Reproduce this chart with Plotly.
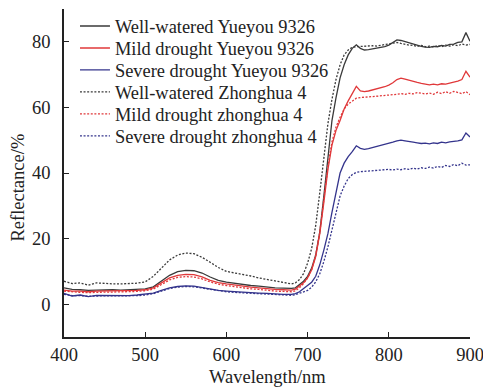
import plotly.graph_objects as go

# Wavelength grid (nm)
wavelength = list(range(400, 690, 10)) + list(range(685, 905, 5))

# Reflectance (%) series
ww_yueyou = [5.0, 4.5, 4.4, 4.2, 4.3, 4.4, 4.4, 4.3, 4.4, 4.5, 4.7, 5.3, 7.0, 8.8, 9.9, 10.3, 10.2, 9.5, 8.3, 7.3,
             6.7, 6.3, 6.0, 5.7, 5.5, 5.2, 5.0, 4.9, 4.8,
             5.0, 6.0, 7.0, 8.5, 11, 15, 22, 33, 45, 56, 63, 69, 73, 76, 78, 79.1, 78, 77.5,
             77.6, 77.8, 77.9, 78.2, 78.5, 79.0, 79.8, 80.6, 80.4, 80.0, 79.6, 79.2, 79.0, 78.6, 78.4, 78.3,
             78.6, 78.5, 78.9, 78.7, 79.2, 79.3, 79.8, 80.0, 82.8, 80.2]
md_yueyou = [4.3, 4.0, 4.0, 3.8, 4.0, 4.0, 4.0, 4.0, 4.1, 4.2, 4.4, 5.0, 6.5, 8.0, 8.8, 9.1, 9.0, 8.3, 7.3, 6.6,
             6.2, 5.8, 5.5, 5.2, 5.0, 4.7, 4.5, 4.4, 4.3,
             4.6, 5.5, 6.5, 8, 10.5, 14.5, 21.5, 31, 41, 48.5, 53, 56, 59.5, 62, 64, 66.4, 65, 64.8,
             65.0, 65.3, 65.6, 66.0, 66.3, 66.8, 67.5, 68.5, 68.9, 68.6, 68.2, 67.9, 67.6, 67.3, 67.0, 66.9,
             67.1, 66.9, 67.2, 67.1, 67.4, 67.6, 68.0, 68.5, 71.0, 69.2]
sd_yueyou = [3.3, 2.5, 2.8, 2.3, 2.7, 2.7, 2.6, 2.5, 2.6, 2.8, 3.0, 3.4, 4.2, 5.0, 5.4, 5.6, 5.5, 5.0, 4.5, 4.2,
             4.0, 3.8, 3.6, 3.5, 3.4, 3.3, 3.1, 3.0, 3.0,
             3.2, 3.8, 4.8, 5.8, 6.7, 8.5, 12, 16.5, 21.5, 28, 34, 40, 43, 45, 46.5, 48.3, 47.5, 47.2,
             47.4, 47.7, 48.1, 48.4, 48.7, 49.0, 49.4, 49.8, 50.0, 49.8, 49.5, 49.4, 49.2, 49.0, 49.1, 48.9,
             49.2, 49.0, 49.4, 49.2, 49.5, 49.6, 49.8, 50.1, 52.2, 51.0]
ww_zhonghua = [7.0, 6.3, 6.5, 5.8, 6.5, 6.3, 6.2, 6.2, 6.2, 6.4, 6.8, 8.5, 11.0, 13.5, 15.0, 15.6, 15.4, 14.3, 12.8, 11.2,
               10.0, 9.6, 9.2, 8.6, 8.0, 7.5, 7.0, 6.5, 6.2,
               6.5, 7.5, 9.3, 12.5, 17, 24, 34, 45, 55, 62.5, 68.5, 73, 76, 77.5, 78.3, 78.5, 78.6, 78.5,
               78.6, 78.8, 78.7, 78.9, 79.0, 79.2, 79.6, 79.8, 79.5, 79.2, 79.0, 78.9, 78.6, 78.9, 78.5, 78.7,
               78.4, 78.8, 78.5, 79.0, 78.7, 79.1, 78.8, 79.3, 79.0, 79.2]
md_zhonghua = [4.0, 3.7, 3.6, 3.5, 3.7, 3.7, 3.7, 3.7, 3.8, 3.9, 4.1, 4.6, 6.0, 7.4, 8.2, 8.4, 8.3, 7.7, 6.8, 6.1,
               5.7, 5.3, 5.0, 4.7, 4.5, 4.2, 4.0, 3.9, 3.8,
               4.1, 5.0, 6.3, 8, 10.5, 15, 22, 32, 42, 49.5, 54, 57, 59.5, 61, 62, 62.8, 63.0, 63.2,
               63.2, 63.3, 63.4, 63.5, 63.6, 63.8, 63.7, 64.0, 64.2, 64.0, 64.3, 64.1, 64.5, 64.3, 64.1, 64.4,
               64.0, 64.6, 64.2, 64.8, 64.3, 64.9, 64.5, 64.2, 64.8, 63.9]
sd_zhonghua = [3.0, 2.6, 2.6, 2.4, 2.5, 2.5, 2.5, 2.4, 2.5, 2.6, 2.8, 3.2, 4.0, 4.8, 5.2, 5.4, 5.3, 4.9, 4.4, 4.0,
               3.8, 3.6, 3.4, 3.3, 3.2, 3.1, 3.0, 2.9, 2.7,
               2.9, 3.3, 3.7, 4.2, 5.2, 6.8, 9.3, 13, 17.5, 23, 28.5, 33, 36, 38.3, 39.5, 40.2, 40.4, 40.5,
               40.6, 40.8, 40.7, 40.9, 41.0, 41.1, 40.9, 41.2, 41.0, 41.3, 41.1, 41.5, 41.2, 41.6, 41.4, 41.8,
               41.5, 42.0, 41.7, 42.3, 42.0, 42.6, 42.2, 43.0, 42.4, 42.5]

series_names = ["Well-watered Yueyou 9326", "Mild drought Yueyou 9326", "Severe drought Yueyou 9326",
                "Well-watered Zhonghua 4", "Mild drought zhonghua 4", "Severe drought zhonghua 4"]
series_values = [ww_yueyou, md_yueyou, sd_yueyou, ww_zhonghua, md_zhonghua, sd_zhonghua]
colors = ["#3a3a3a", "#e0383a", "#34348c", "#3a3a3a", "#e0383a", "#34348c"]
dashes = ["solid", "solid", "solid", "2px,1.6px", "2px,1.6px", "2px,1.6px"]

x_ticks = [400, 500, 600, 700, 800, 900]
y_ticks = [0, 20, 40, 60, 80, 90]
y_ticktext = ["0", "20", "40", "60", "80", ""]

FONT = "Liberation Serif"
LEG_FONT = 18.4
legend_rows_y = [0.948, 0.881, 0.814, 0.747, 0.680, 0.613]

fig = go.Figure()
legend_layout = {}
for i, (name, vals, c, d) in enumerate(zip(series_names, series_values, colors, dashes)):
    lname = "legend" if i == 0 else f"legend{i + 1}"
    fig.add_trace(go.Scatter(x=wavelength, y=vals, mode="lines", name=name, legend=lname,
                             line=dict(color=c, width=1.3, dash=d)))
    legend_layout[lname] = dict(x=0.027, y=legend_rows_y[i], xanchor="left", yanchor="middle",
                                bgcolor="rgba(0,0,0,0)", borderwidth=0,
                                font=dict(family=FONT, size=LEG_FONT, color="#222"),
                                itemwidth=30)

fig.update_layout(
    width=483, height=387,
    margin=dict(l=64, r=13, t=9, b=50, autoexpand=False),
    plot_bgcolor="white", paper_bgcolor="white",
    font=dict(family=FONT, size=18, color="#222"),
    showlegend=True,
    xaxis=dict(range=[400, 900], tickvals=x_ticks, ticks="inside", ticklen=5, tickwidth=1.4,
               tickcolor="#222", showline=True, linecolor="#222", linewidth=1.5, automargin=False,
               showgrid=False, zeroline=False, mirror=False, ticklabeloverflow="allow",
               tickfont=dict(family=FONT, size=18.5, color="#222")),
    yaxis=dict(range=[-10, 90], tickvals=y_ticks, ticktext=y_ticktext, ticks="inside", ticklen=5,
               tickwidth=1.4, tickcolor="#222", showline=True, linecolor="#222", linewidth=1.5,
               automargin=False, showgrid=False, zeroline=False, mirror=False, ticklabelstandoff=8,
               tickfont=dict(family=FONT, size=18.5, color="#222")),
    annotations=[
        dict(text="Wavelength/nm", xref="paper", yref="paper", x=0.5, y=-0.123,
             xanchor="center", yanchor="middle", showarrow=False,
             font=dict(family=FONT, size=18.5, color="#222")),
        dict(text="Reflectance/%", xref="paper", yref="paper", x=-0.113, y=0.456,
             xanchor="center", yanchor="middle", showarrow=False, textangle=-90,
             font=dict(family=FONT, size=18.5, color="#222")),
    ],
    **legend_layout,
)

fig.write_html("out.html")
